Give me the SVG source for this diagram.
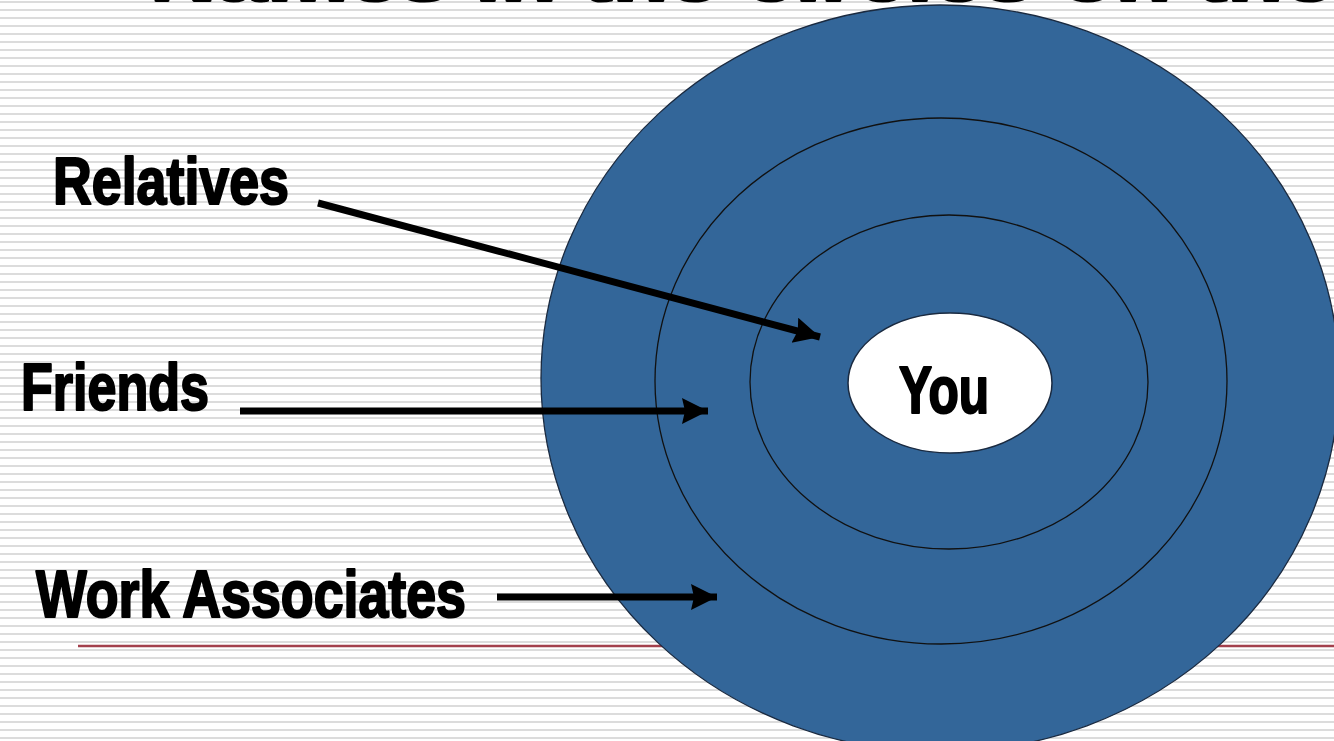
<svg xmlns="http://www.w3.org/2000/svg" width="1334" height="741" viewBox="0 0 1334 741">
<style>
.lbl{font-family:"Liberation Sans",Arial,sans-serif;font-weight:bold;fill:#000;stroke:#000;stroke-width:2.2;stroke-linejoin:round;}
.ring{fill:none;stroke:#111;stroke-width:1.3;}
.arr{stroke:#000;stroke-width:7;fill:none;marker-end:url(#ah);}
</style>
<defs>
<pattern id="bg" width="8" height="8" patternUnits="userSpaceOnUse">
<rect width="8" height="8" fill="#ffffff"/>
<rect y="1" width="8" height="2" fill="#dcdcdc"/>
</pattern>
<marker id="ah" markerUnits="userSpaceOnUse" markerWidth="28" markerHeight="28" refX="26" refY="13" orient="auto">
<path d="M0,0 L26,13 L0,26 L3,13 Z" fill="#000"/>
</marker>
</defs>
<rect width="1334" height="741" fill="url(#bg)"/>
<text class="lbl" x="150" y="0.5" font-size="64" textLength="1184" lengthAdjust="spacingAndGlyphs">Names in the circles on the</text>
<line x1="78" y1="646" x2="1334" y2="646" stroke="#a3404c" stroke-width="2.5"/>
<g id="outer-circle">
<ellipse cx="940" cy="378.5" rx="399" ry="373.5" fill="#336699" stroke="#1a2a40" stroke-width="1.3"/>
</g>
<g id="middle-circle">
<ellipse class="ring" cx="941" cy="381" rx="286" ry="263"/>
</g>
<g id="inner-circle">
<ellipse class="ring" cx="949" cy="382" rx="199" ry="167"/>
</g>
<g id="you">
<ellipse cx="950" cy="383" rx="102" ry="70" fill="#ffffff" stroke="#1a2a40" stroke-width="1.5"/>
<text class="lbl" x="899" y="413" font-size="66" textLength="90" lengthAdjust="spacingAndGlyphs">You</text>
</g>
<g id="relatives">
<text class="lbl" x="53" y="204" font-size="66" textLength="236" lengthAdjust="spacingAndGlyphs">Relatives</text>
</g>
<g id="friends">
<text class="lbl" x="21" y="410" font-size="66" textLength="188" lengthAdjust="spacingAndGlyphs">Friends</text>
</g>
<g id="work-associates">
<text class="lbl" x="36" y="617" font-size="66" textLength="430" lengthAdjust="spacingAndGlyphs">Work Associates</text>
</g>
<g id="connectors">
<line class="arr" x1="318" y1="203" x2="820" y2="337"/>
<line class="arr" x1="240" y1="411" x2="708" y2="411"/>
<line class="arr" x1="497" y1="597" x2="717" y2="597"/>
</g>
</svg>
